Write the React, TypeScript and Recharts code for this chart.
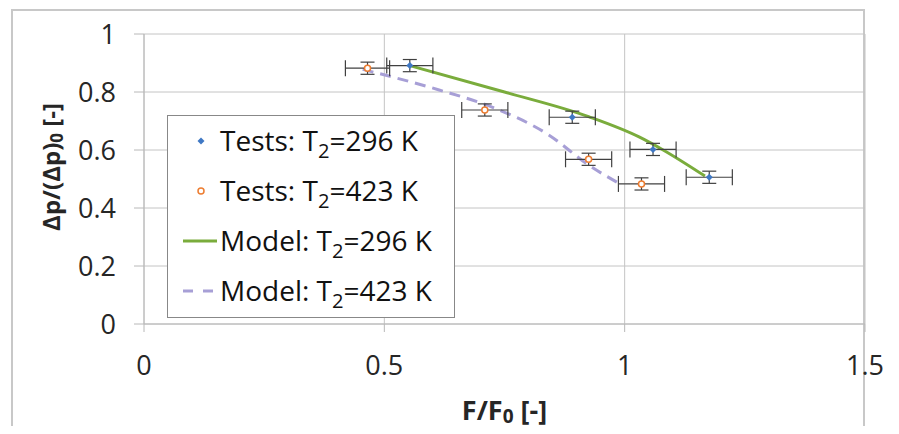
import {
  ComposedChart,
  Scatter,
  Line,
  XAxis,
  YAxis,
  CartesianGrid,
  ErrorBar,
  Legend,
} from 'recharts'

// ticks
const xTicks = [0, 0.5, 1, 1.5]
const yTicks = [0, 0.2, 0.4, 0.6, 0.8, 1]

// measurements, T2 = 296 K
const tests296X = [0.553, 0.891, 1.059, 1.176]
const tests296Y = [0.891, 0.713, 0.602, 0.506]
const tests296XErr = [0.048, 0.048, 0.048, 0.048]
const tests296YErr = [0.021, 0.021, 0.021, 0.021]

// measurements, T2 = 423 K
const tests423X = [0.465, 0.709, 0.925, 1.035]
const tests423Y = [0.882, 0.738, 0.568, 0.483]
const tests423XErr = [0.046, 0.048, 0.048, 0.048]
const tests423YErr = [0.021, 0.021, 0.021, 0.021]

// model curves
const model296X = [0.553, 0.75, 0.925, 1.03, 1.08, 1.167]
const model296Y = [0.891, 0.8, 0.715, 0.645, 0.6, 0.51]
const model423X = [0.455, 0.614, 0.724, 0.842, 0.925, 0.988]
const model423Y = [0.878, 0.807, 0.748, 0.652, 0.548, 0.485]

const FONT = "'Open Sans', sans-serif"
const BLUE = '#3f78c4'
const ORANGE = '#ed7d31'
const GREEN = '#7aac3c'
const PURPLE = '#a79fd6'
const ERR = '#404040'

const toTests = (xs: number[], ys: number[], ex: number[], ey: number[]) =>
  xs.map((x, i) => ({ x, y: ys[i], ex: ex[i], ey: ey[i] }))
const toCurve = (xs: number[], ys: number[]) => xs.map((x, i) => ({ x, y: ys[i] }))

const tests296 = toTests(tests296X, tests296Y, tests296XErr, tests296YErr)
const tests423 = toTests(tests423X, tests423Y, tests423XErr, tests423YErr)
const model296 = toCurve(model296X, model296Y)
const model423 = toCurve(model423X, model423Y)

const Diamond = (props: any) => {
  const { cx, cy } = props
  const r = 3.5
  return <polygon points={`${cx},${cy - r} ${cx + r},${cy} ${cx},${cy + r} ${cx - r},${cy}`} fill={BLUE} />
}

const Ring = (props: any) => {
  const { cx, cy } = props
  return <circle cx={cx} cy={cy} r={3} fill="#fff" stroke={ORANGE} strokeWidth={1.5} />
}

const YTitle = ({ viewBox }: any) => {
  const cx = viewBox.x + 42
  const cy = viewBox.y + viewBox.height / 2 - 12
  return (
    <text
      x={cx}
      y={cy}
      transform={`rotate(-90 ${cx} ${cy})`}
      textAnchor="middle"
      dominantBaseline="central"
      fontFamily={FONT}
      fontWeight="bold"
      fontSize={24}
      fill="#262626"
    >
      Δp/(Δp)<tspan dy={6} fontSize={17}>0</tspan>
      <tspan dy={-6}> [-]</tspan>
    </text>
  )
}

const XTitle = ({ viewBox }: any) => {
  const cx = viewBox.x + viewBox.width / 2
  const cy = viewBox.y + 85
  return (
    <text
      x={cx}
      y={cy}
      textAnchor="middle"
      dominantBaseline="central"
      fontFamily={FONT}
      fontWeight="bold"
      fontSize={27}
      fill="#262626"
    >
      F/F<tspan dy={7} fontSize={19}>0</tspan>
      <tspan dy={-7}> [-]</tspan>
    </text>
  )
}

const legendRows = [
  { kind: 'diamond', label: 'Tests: T', temp: '=296 K' },
  { kind: 'ring', label: 'Tests: T', temp: '=423 K' },
  { kind: 'solid', label: 'Model: T', temp: '=296 K' },
  { kind: 'dashed', label: 'Model: T', temp: '=423 K' },
]

const LegendIcon = ({ kind }: { kind: string }) => (
  <svg width={52} height={20} style={{ flex: 'none' }}>
    {kind === 'diamond' && <polygon points="33,6.5 36.5,10 33,13.5 29.5,10" fill={BLUE} />}
    {kind === 'ring' && <circle cx={33} cy={10} r={3} fill="#fff" stroke={ORANGE} strokeWidth={1.5} />}
    {kind === 'solid' && <line x1={15} y1={10} x2={49} y2={10} stroke={GREEN} strokeWidth={3} />}
    {kind === 'dashed' && (
      <line x1={15} y1={10} x2={47} y2={10} stroke={PURPLE} strokeWidth={3} strokeDasharray="10 10" />
    )}
  </svg>
)

const LegendBox = () => (
  <div
    style={{
      width: 288,
      height: 203,
      boxSizing: 'border-box',
      border: '1.5px solid #888',
      background: '#fff',
      fontFamily: FONT,
      fontSize: 28,
      color: '#111',
    }}
  >
    {legendRows.map((r) => (
      <div key={r.kind} style={{ display: 'flex', alignItems: 'center', height: 50, whiteSpace: 'nowrap' }}>
        <LegendIcon kind={r.kind} />
        <span style={{ lineHeight: '30px' }}>
          {r.label}
          <span style={{ fontSize: '0.72em', position: 'relative', top: 7 }}>2</span>
          {r.temp}
        </span>
      </div>
    ))}
  </div>
)

export default function App() {
  return (
    <div
      style={{
        position: 'relative',
        width: 883,
        height: 426,
        marginBottom: -8,
        overflow: 'hidden',
        background: '#fff',
      }}
    >
      <div
        style={{
          position: 'absolute',
          left: 3,
          top: 1,
          width: 854,
          height: 440,
          boxSizing: 'border-box',
          border: '2px solid #c8c8c8',
          borderBottom: 'none',
        }}
      />
      <ComposedChart
        width={883}
        height={426}
        margin={{ top: 26, right: 26, left: 0, bottom: 0 }}
        style={{ position: 'absolute', left: 0, top: 0 }}
      >
        <CartesianGrid stroke="#c4c4c4" strokeWidth={1} />
        <XAxis
          type="number"
          dataKey="x"
          domain={[0, 1.5]}
          ticks={xTicks}
          allowDataOverflow
          height={110}
          tickSize={8}
          tickMargin={24}
          stroke="#b8b8b8"
          tick={{ fill: '#262626', fontSize: 27, fontFamily: FONT }}
          tickFormatter={(v: number) => String(v)}
          label={{ content: XTitle }}
        />
        <YAxis
          type="number"
          dataKey="y"
          domain={[0, 1]}
          ticks={yTicks}
          allowDataOverflow
          width={136}
          tickSize={10}
          tickMargin={18}
          stroke="#b8b8b8"
          tick={{ fill: '#262626', fontSize: 27, fontFamily: FONT }}
          tickFormatter={(v: number) => String(v)}
          label={{ content: YTitle }}
        />
        <Line
          data={model296}
          dataKey="y"
          type="monotone"
          stroke={GREEN}
          strokeWidth={3}
          dot={false}
          activeDot={false}
          isAnimationActive={false}
          legendType="none"
        />
        <Line
          data={model423}
          dataKey="y"
          type="monotone"
          stroke={PURPLE}
          strokeWidth={3}
          strokeDasharray="11 7"
          dot={false}
          activeDot={false}
          isAnimationActive={false}
          legendType="none"
        />
        <Scatter data={tests296} dataKey="y" shape={Diamond} isAnimationActive={false}>
          <ErrorBar dataKey="ex" direction="x" width={8} stroke={ERR} strokeWidth={1.2} />
          <ErrorBar dataKey="ey" direction="y" width={7} stroke={ERR} strokeWidth={1.2} />
        </Scatter>
        <Scatter data={tests423} dataKey="y" shape={Ring} isAnimationActive={false}>
          <ErrorBar dataKey="ex" direction="x" width={8} stroke={ERR} strokeWidth={1.2} />
          <ErrorBar dataKey="ey" direction="y" width={7} stroke={ERR} strokeWidth={1.2} />
        </Scatter>
        <Legend
          layout="vertical"
          align="center"
          verticalAlign="middle"
          content={LegendBox}
          wrapperStyle={{ left: 159, top: 107, width: 288, height: 203 }}
        />
      </ComposedChart>
    </div>
  )
}
